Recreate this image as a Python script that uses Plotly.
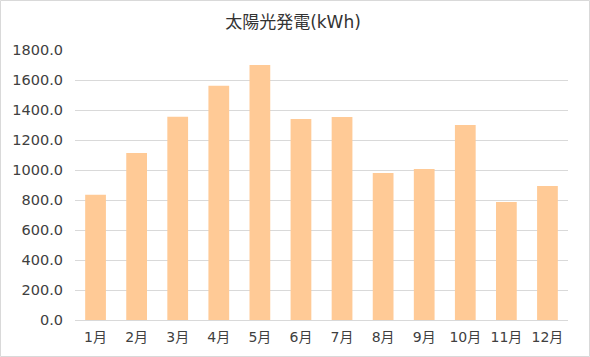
import plotly.graph_objects as go

months = ["1月", "2月", "3月", "4月", "5月", "6月", "7月", "8月", "9月", "10月", "11月", "12月"]
values = [835, 1113, 1355, 1562, 1700, 1340, 1353, 980, 1007, 1300, 787, 893]
title_text = "太陽光発電(kWh)"

W, H = 590, 357
L, R, T, B = 75, 22, 50, 37
font_family = "DejaVu Sans, Noto Sans CJK JP, sans-serif"

fig = go.Figure(go.Bar(x=months, y=values, marker=dict(color="#FFCA96", line=dict(width=0)),
                       hoverinfo="skip"))

pw = W - L - R
ph = H - T - B
fig.add_shape(type="rect", xref="paper", yref="paper",
              x0=(-L + 0.5) / pw, x1=(pw + R - 0.5) / pw,
              y0=(-B + 0.5) / ph, y1=(ph + T - 0.5) / ph,
              line=dict(color="#D9D9D9", width=1), layer="below")

fig.update_layout(
    width=W, height=H,
    margin=dict(l=L, r=R, t=T, b=B),
    paper_bgcolor="white", plot_bgcolor="white",
    title=dict(text=title_text, x=293 / W, xanchor="center", xref="container",
               y=1 - 22 / H, yanchor="middle",
               font=dict(family=font_family, size=17, color="#333333")),
    bargap=0.495,
    showlegend=False,
    font=dict(family=font_family, size=14, color="#404040"),
)
fig.update_xaxes(showgrid=False, showline=True, linecolor="#D9D9D9", linewidth=1,
                 ticks="", tickfont=dict(size=14, color="#404040"), ticklabelstandoff=4)
fig.update_yaxes(range=[0, 1800], dtick=200, tickformat=".1f", showgrid=True,
                 gridcolor="#D9D9D9", gridwidth=1, zeroline=False, showline=False,
                 ticks="", tickfont=dict(size=14.5, color="#404040"), ticklabelstandoff=11)

fig.write_html("out.html", config={"displayModeBar": False},
               post_script="document.body.style.margin='0';")
